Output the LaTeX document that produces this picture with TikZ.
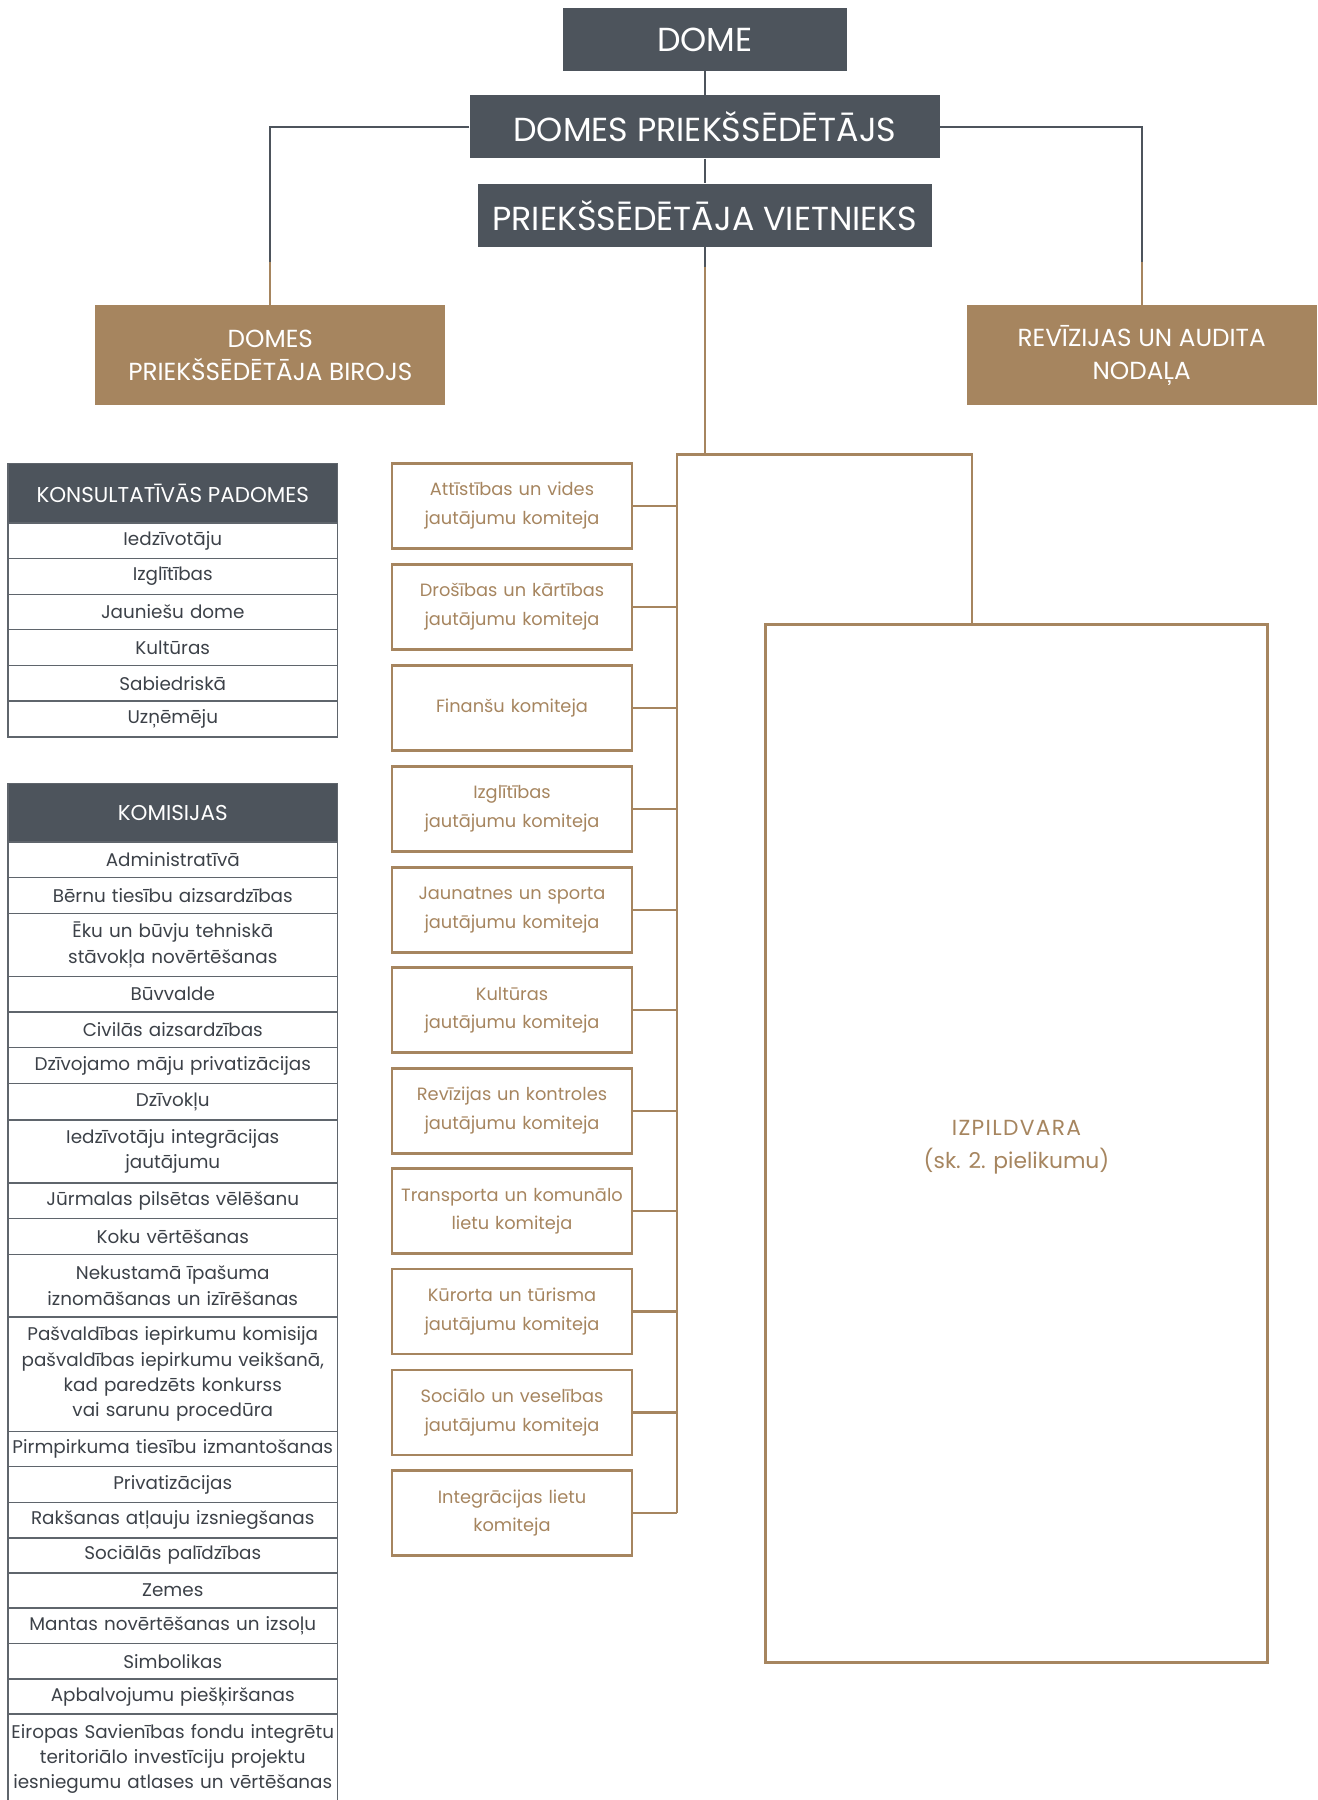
\documentclass[tikz,border=0pt]{standalone}
\usepackage{fontspec}
\setmainfont{Poppins}
\definecolor{dark}{HTML}{4D545C}
\definecolor{brn}{HTML}{A6855F}
\definecolor{txt}{HTML}{3C4148}
\definecolor{rulec}{HTML}{5F656C}
\tikzset{
  darkbox/.style={fill=dark, text=white, inner sep=0pt, font=\fontsize{29}{32}\selectfont},
  brownbox/.style={fill=brn, text=white, inner sep=0pt, align=center, minimum width=305pt, minimum height=87pt, font=\fontsize{21.5}{29}\selectfont},
  combox/.style={draw=brn, line width=2.4pt, text=brn, inner sep=0pt, align=center, text width=205pt, minimum width=209pt, minimum height=74pt, font=\fontsize{15.5}{25}\selectfont},
  thead/.style={fill=dark, draw=rulec, line width=1.2pt, text=white, inner sep=0pt, minimum width=287pt, font=\fontsize{18.7}{22}\selectfont, anchor=north},
  trowbox/.style={draw=rulec, line width=1.2pt, text=txt, inner sep=0pt, align=center, text width=285pt, minimum width=287pt, font=\fontsize{16}{22}\selectfont, anchor=north},
  grayline/.style={draw=dark, line width=2pt},
  brownline/.style={draw=brn, line width=2pt},
}
\newcommand\trow[4]{\node[trowbox, minimum height=#3pt] (#1) at (150.5,#2) {#4};}
\begin{document}
\begin{tikzpicture}[x=1pt,y=-1pt]
\useasboundingbox (0,0) rectangle (1148,1568);

% top hierarchy
\node[darkbox, minimum width=248pt, minimum height=55pt] (dome) at (614,34.5) {DOME};
\node[darkbox, minimum width=410pt, minimum height=55pt] (dps) at (614,110.5) {DOMES PRIEKŠSĒDĒTĀJS};
\node[darkbox, minimum width=396pt, minimum height=55pt] (pv) at (614,187.5) {PRIEKŠSĒDĒTĀJA VIETNIEKS};
\node[brownbox] (bir) at (235.5,309.5) {DOMES\\PRIEKŠSĒDĒTĀJA BIROJS};
\node[brownbox] (rev) at (994.5,309.5) {REVĪZIJAS UN AUDITA\\NODAĻA};

\draw[grayline] (dome.south) -- (dps.north);
\draw[grayline] (dps.south) -- (pv.north);
\draw[grayline] (dps.west) -| ([yshift=38pt]bir.north);
\draw[brownline] ([yshift=38pt]bir.north) -- (bir.north);
\draw[grayline] (dps.east) -| ([yshift=38pt]rev.north);
\draw[brownline] ([yshift=38pt]rev.north) -- (rev.north);

% executive box
\node[draw=brn, line width=2.4pt, text=brn, inner sep=0pt, align=center, minimum width=437pt, minimum height=904pt, font=\fontsize{19}{29}\selectfont] (izp) at (885.5,996) {\vphantom{(}\\[-27pt]{\addfontfeature{LetterSpace=6}IZPILDVARA}\\(sk. 2. pielikumu)};

% committees
\node[combox] (c1) at (446,440.5) {Attīstības un vides\\jautājumu komiteja};
\node[combox] (c2) at (446,528.5) {Drošības un kārtības\\jautājumu komiteja};
\node[combox] (c3) at (446,616.5) {Finanšu komiteja};
\node[combox] (c4) at (446,704.5) {Izglītības\\jautājumu komiteja};
\node[combox] (c5) at (446,792.5) {Jaunatnes un sporta\\jautājumu komiteja};
\node[combox] (c6) at (446,880) {Kultūras\\jautājumu komiteja};
\node[combox] (c7) at (446,967.5) {Revīzijas un kontroles\\jautājumu komiteja};
\node[combox] (c8) at (446,1055) {Transporta un komunālo\\lietu komiteja};
\node[combox] (c9) at (446,1142.5) {Kūrorta un tūrisma\\jautājumu komiteja};
\node[combox] (c10) at (446,1230.5) {Sociālo un veselības\\jautājumu komiteja};
\node[combox] (c11) at (446,1318) {Integrācijas lietu\\komiteja};

% bus
\coordinate (bus) at (614,396);
\coordinate (spine) at (590,396);
\coordinate (busr) at (847,396);
\draw[grayline] (pv.south) -- ([yshift=-17pt]pv.south);
\draw[brownline] ([yshift=-17pt]pv.south) -- (bus);
\draw[brownline, line join=miter] (spine |- c11.east) -- (spine) -- (busr) -- (busr |- izp.north);
\foreach \i in {1,...,11} {
  \draw[brownline] (c\i.east) -- (c\i.east -| spine);
}

% consultative councils
\node[thead, minimum height=52pt] (kh) at (150.5,403) {KONSULTATĪVĀS PADOMES};
\trow{k1}{455}{31}{Iedzīvotāju}
\trow{k2}{486}{31}{Izglītības}
\trow{k3}{517}{31}{Jauniešu dome}
\trow{k4}{548}{31}{Kultūras}
\trow{k5}{579}{31}{Sabiedriskā}
\trow{k6}{610}{31.5}{Uzņēmēju}

% commissions
\node[thead, minimum height=51pt] (mh) at (150.5,682) {KOMISIJAS};
\trow{m1}{733}{31}{Administratīvā}
\trow{m2}{764}{31}{Bērnu tiesību aizsardzības}
\trow{m3}{795}{55}{Ēku un būvju tehniskā\\stāvokļa novērtēšanas}
\trow{m4}{850}{31}{Būvvalde}
\trow{m5}{881}{31}{Civilās aizsardzības}
\trow{m6}{912}{31.5}{Dzīvojamo māju privatizācijas}
\trow{m7}{943.5}{31.5}{Dzīvokļu}
\trow{m8}{975}{55}{Iedzīvotāju integrācijas\\jautājumu}
\trow{m9}{1030}{31}{Jūrmalas pilsētas vēlēšanu}
\trow{m10}{1061}{31}{Koku vērtēšanas}
\trow{m11}{1092}{54.5}{Nekustamā īpašuma\\iznomāšanas un izīrēšanas}
\trow{m12}{1146.5}{100}{Pašvaldības iepirkumu komisija\\pašvaldības iepirkumu veikšanā,\\kad paredzēts konkurss\\vai sarunu procedūra}
\trow{m13}{1246.5}{30.5}{Pirmpirkuma tiesību izmantošanas}
\trow{m14}{1277}{31}{Privatizācijas}
\trow{m15}{1308}{31}{Rakšanas atļauju izsniegšanas}
\trow{m16}{1339}{30.5}{Sociālās palīdzības}
\trow{m17}{1369.5}{30.5}{Zemes}
\trow{m18}{1400}{31}{Mantas novērtēšanas un izsoļu}
\trow{m19}{1431}{31}{Simbolikas}
\trow{m20}{1462}{30.5}{Apbalvojumu piešķiršanas}
\trow{m21}{1492.5}{78}{Eiropas Savienības fondu integrētu\\teritoriālo investīciju projektu\\iesniegumu atlases un vērtēšanas}
\end{tikzpicture}
\end{document}
